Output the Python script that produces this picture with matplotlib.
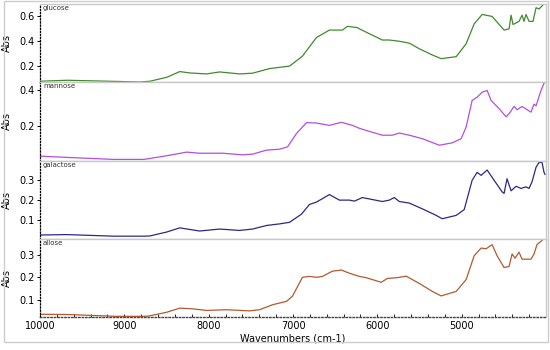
import matplotlib
matplotlib.use("Agg")
import matplotlib.pyplot as plt
from matplotlib.patches import Rectangle

# ---- data (wavenumber, absorbance) ----
glucose_w = [10000, 9680, 9172, 8817, 8698, 8497, 8343, 8225, 8024, 7870, 7633, 7479, 7278, 7041,
             6888, 6722, 6568, 6414, 6355, 6237, 6213, 5941, 5858, 5740, 5621, 5503, 5349, 5243,
             5065, 4947, 4852, 4757, 4639, 4497, 4438, 4414, 4391, 4320, 4284, 4261, 4237, 4201,
             4154, 4118, 4083, 4024, 4012]
glucose_a = [0.078, 0.086, 0.078, 0.072, 0.078, 0.11, 0.156, 0.145, 0.137, 0.153, 0.137, 0.143, 0.18, 0.20,
             0.28, 0.43, 0.49, 0.49, 0.52, 0.51, 0.50, 0.41, 0.41, 0.40, 0.385, 0.34, 0.29, 0.26,
             0.276, 0.38, 0.54, 0.616, 0.60, 0.49, 0.50, 0.61, 0.535, 0.56, 0.61, 0.56, 0.616, 0.56,
             0.56, 0.67, 0.66, 0.70, 0.70]

mannose_w = [10000, 9680, 9124, 8769, 8698, 8462, 8261, 8107, 7834, 7597, 7479, 7314, 7160, 7065,
             6959, 6840, 6722, 6568, 6426, 6296, 6213, 6095, 5941, 5822, 5740, 5621, 5467, 5266,
             5112, 5006, 4947, 4876, 4817, 4757, 4698, 4651, 4556, 4473, 4438, 4379, 4343, 4284,
             4178, 4142, 4118, 4059, 4024, 4012]
mannose_a = [0.034, 0.027, 0.016, 0.016, 0.021, 0.039, 0.056, 0.05, 0.05, 0.041, 0.045, 0.067, 0.072, 0.085,
             0.158, 0.218, 0.216, 0.203, 0.22, 0.203, 0.187, 0.17, 0.149, 0.149, 0.161, 0.149, 0.13, 0.094,
             0.107, 0.13, 0.194, 0.34, 0.358, 0.385, 0.395, 0.34, 0.295, 0.25, 0.267, 0.307, 0.289, 0.307,
             0.276, 0.32, 0.31, 0.395, 0.434, 0.44]

galactose_w = [10000, 9680, 9124, 8769, 8698, 8497, 8343, 8107, 7870, 7633, 7479, 7314, 7160, 7041,
               6900, 6805, 6722, 6568, 6450, 6331, 6272, 6213, 6178, 5941, 5858, 5799, 5740, 5621,
               5467, 5302, 5231, 5065, 4970, 4876, 4817, 4769, 4698, 4615, 4521, 4497, 4462, 4414,
               4355, 4296, 4237, 4201, 4166, 4118, 4083, 4047, 4024, 4012]
galactose_a = [0.024, 0.026, 0.018, 0.018, 0.019, 0.039, 0.06, 0.044, 0.054, 0.047, 0.054, 0.072, 0.08, 0.088,
               0.129, 0.178, 0.19, 0.228, 0.20, 0.20, 0.195, 0.206, 0.213, 0.193, 0.20, 0.213, 0.193, 0.185,
               0.156, 0.123, 0.106, 0.123, 0.152, 0.30, 0.34, 0.325, 0.352, 0.30, 0.242, 0.234, 0.308, 0.247,
               0.27, 0.259, 0.267, 0.259, 0.292, 0.366, 0.39, 0.39, 0.341, 0.33]

allose_w = [10000, 9680, 9101, 8769, 8698, 8497, 8343, 8189, 8024, 7787, 7515, 7397, 7243, 7077,
            7006, 6888, 6805, 6722, 6651, 6533, 6426, 6331, 6213, 6130, 5953, 5882, 5775, 5657,
            5503, 5349, 5243, 5065, 4947, 4852, 4769, 4710, 4639, 4580, 4497, 4438, 4402, 4367,
            4320, 4284, 4178, 4142, 4107, 4024, 4012]
allose_a = [0.037, 0.036, 0.028, 0.028, 0.03, 0.046, 0.064, 0.061, 0.054, 0.057, 0.052, 0.057, 0.079, 0.094,
            0.117, 0.20, 0.204, 0.20, 0.204, 0.227, 0.232, 0.218, 0.204, 0.198, 0.178, 0.195, 0.198, 0.205,
            0.173, 0.138, 0.118, 0.138, 0.19, 0.295, 0.329, 0.326, 0.344, 0.295, 0.243, 0.248, 0.303, 0.284,
            0.311, 0.28, 0.28, 0.303, 0.344, 0.37, 0.37]

names = ["glucose", "mannose", "galactose", "allose"]
series = [(glucose_w, glucose_a), (mannose_w, mannose_a), (galactose_w, galactose_a), (allose_w, allose_a)]
colors = ["#3f8a2c", "#b24fe0", "#2a2a86", "#b25a2e"]
ylims = [(0.07, 0.70), (0.01, 0.44), (0.005, 0.40), (0.025, 0.37)]
yticks = [[0.2, 0.4, 0.6], [0.2, 0.4], [0.1, 0.2, 0.3], [0.1, 0.2, 0.3]]
xticks = [10000, 9000, 8000, 7000, 6000, 5000]

fig = plt.figure(figsize=(5.5, 3.5), dpi=100)
gs = fig.add_gridspec(4, 1, left=40/550, right=546/550, top=1-4/350, bottom=1-317/350, hspace=0)
axes = [fig.add_subplot(gs[i]) for i in range(4)]

for i, ax in enumerate(axes):
    w, a = series[i]
    ax.plot(w, a, color=colors[i], lw=0.9)
    ax.set_xlim(10000, 4000)
    ax.set_ylim(*ylims[i])
    ax.set_yticks(yticks[i])
    ax.set_yticklabels([f"{t:.1f}" for t in yticks[i]], fontsize=7)
    ax.set_ylabel("Abs", fontsize=7, labelpad=6)
    ax.yaxis.set_label_coords(-0.055, 0.5)
    for s in ["top", "right", "bottom"]:
        ax.spines[s].set_color("#c8c8c8")
        ax.spines[s].set_linewidth(1.0)
    ax.spines["left"].set_linestyle((0, (1, 1.5)))
    ax.spines["left"].set_linewidth(0.9)
    ax.tick_params(axis="y", length=2.5, width=0.7, pad=1.5)
    ax.text(0.006, 0.985, names[i], transform=ax.transAxes, fontsize=5, va="top", ha="left", color="#333333")
    if i < 3:
        ax.set_xticks([])
    else:
        ax.set_xticks(xticks)
        ax.set_xticklabels([str(t) for t in xticks], fontsize=7)
        ax.set_xticks(list(range(10000, 3999, -200)), minor=True)
        ax.tick_params(axis="x", which="both", direction="in", length=2, width=0.6, pad=3)
        ax.spines["bottom"].set_color("#444444")
        ax.spines["bottom"].set_linestyle((0, (1, 1.5)))
        ax.set_xlabel("Wavenumbers (cm-1)", fontsize=7, labelpad=2)

fig.patches.append(Rectangle((4/550, 1-342/350), 544/550, 341/350, transform=fig.transFigure,
                             fill=False, edgecolor="#cccccc", lw=1.0))

fig.savefig("out.png", dpi=100)
